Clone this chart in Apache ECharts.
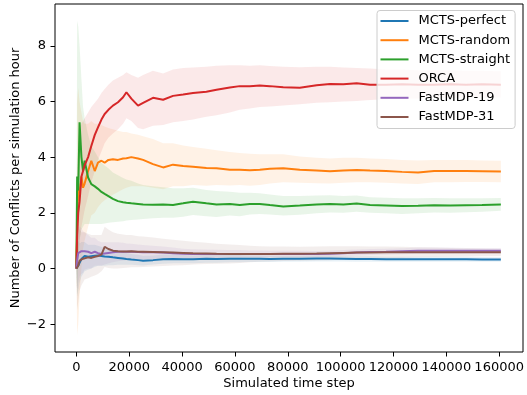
<!DOCTYPE html>
<html>
<head>
<meta charset="utf-8">
</head>
<body style="margin:0">
<div id="container" style="width:527px;height:395px"></div>
<script src="https://cdn.jsdelivr.net/npm/echarts@6/dist/echarts.min.js"></script>
<script>
// simulated time steps (shared by all series)
var steps = [0, 300, 700, 1200, 1900, 2500, 3100, 4400, 5600, 6900,
  8100, 9400, 10600, 12000, 13700, 15600, 17500, 18750, 20600, 23100,
  25000, 28700, 32500, 36200, 40000, 43700, 48700, 52500, 57500, 61200,
  65000, 68700, 72500, 77500, 83700, 90000, 95000, 100000, 105000, 110000,
  116000, 122000, 128000, 134000, 140000, 146000, 152000, 159000];

var xTicks = [0, 20000, 40000, 60000, 80000, 100000, 120000, 140000, 160000];
var yTicks = [-2, 0, 2, 4, 6, 8];

var names = ['MCTS-perfect', 'MCTS-random', 'MCTS-straight', 'ORCA', 'FastMDP-19', 'FastMDP-31'];
var colors = ['#1f77b4', '#ff7f0e', '#2ca02c', '#d62728', '#9467bd', '#8c564b'];

var perfectMean = [0, 0, 0.1, 0.2, 0.34, 0.4, 0.45, 0.42, 0.44, 0.46,
  0.47, 0.45, 0.43, 0.42, 0.4, 0.38, 0.36, 0.34, 0.32, 0.3,
  0.28, 0.3, 0.33, 0.34, 0.33, 0.33, 0.35, 0.34, 0.35, 0.35,
  0.35, 0.35, 0.34, 0.35, 0.35, 0.36, 0.36, 0.35, 0.34, 0.34,
  0.33, 0.33, 0.33, 0.33, 0.33, 0.33, 0.32, 0.32];
var perfectLo = [0, -1.0, -0.8, -0.5, -0.3, -0.2, -0.1, -0.05, 0.0, 0.05,
  0.1, 0.1, 0.1, 0.12, 0.12, 0.13, 0.13, 0.13, 0.13, 0.12,
  0.11, 0.14, 0.17, 0.19, 0.19, 0.19, 0.21, 0.21, 0.22, 0.22,
  0.23, 0.23, 0.23, 0.24, 0.24, 0.25, 0.25, 0.25, 0.24, 0.24,
  0.24, 0.24, 0.24, 0.24, 0.24, 0.24, 0.24, 0.24];
var perfectHi = [0, 1.0, 1.0, 0.9, 0.95, 0.95, 0.95, 0.85, 0.85, 0.85,
  0.82, 0.78, 0.74, 0.72, 0.68, 0.63, 0.6, 0.56, 0.52, 0.49,
  0.46, 0.47, 0.5, 0.5, 0.48, 0.47, 0.49, 0.48, 0.48, 0.48,
  0.47, 0.47, 0.46, 0.46, 0.46, 0.47, 0.47, 0.45, 0.44, 0.44,
  0.42, 0.42, 0.42, 0.42, 0.42, 0.42, 0.41, 0.4];

var randomMean = [0, 1.5, 2.9, 2.7, 3.3, 2.9, 3.05, 3.5, 3.87, 3.5,
  3.8, 3.87, 3.8, 3.9, 3.92, 3.9, 3.95, 3.96, 4.0, 3.95,
  3.9, 3.75, 3.63, 3.73, 3.68, 3.65, 3.61, 3.6, 3.55, 3.55,
  3.53, 3.55, 3.58, 3.6, 3.55, 3.52, 3.49, 3.52, 3.54, 3.52,
  3.5, 3.47, 3.45, 3.5, 3.5, 3.5, 3.49, 3.48];
var randomLo = [0, -2.4, -2.0, -1.0, 0.0, 0.7, 1.0, 1.5, 1.9, 2.0,
  2.2, 2.35, 2.45, 2.55, 2.65, 2.75, 2.85, 2.9, 2.95, 2.95,
  2.95, 2.9, 2.85, 2.95, 2.95, 3.0, 2.97, 3.0, 2.98, 3.0,
  2.97, 3.0, 3.05, 3.1, 3.08, 3.06, 3.05, 3.08, 3.1, 3.1,
  3.08, 3.05, 3.03, 3.1, 3.1, 3.11, 3.11, 3.1];
var randomHi = [0, 6.0, 6.5, 6.0, 5.6, 5.3, 5.2, 5.2, 5.3, 5.2,
  5.2, 5.15, 5.1, 5.05, 5.0, 4.95, 4.9, 4.9, 4.85, 4.8,
  4.75, 4.65, 4.5, 4.5, 4.42, 4.36, 4.3, 4.25, 4.18, 4.15,
  4.12, 4.1, 4.1, 4.1, 4.02, 3.98, 3.95, 3.98, 3.98, 3.95,
  3.93, 3.9, 3.88, 3.9, 3.9, 3.9, 3.88, 3.87];

var straightMean = [0, 3.3, 2.8, 5.25, 4.0, 3.5, 3.87, 3.27, 3.03, 2.95,
  2.86, 2.75, 2.68, 2.6, 2.5, 2.42, 2.38, 2.36, 2.34, 2.32,
  2.3, 2.29, 2.3, 2.28, 2.34, 2.4, 2.34, 2.3, 2.32, 2.28,
  2.32, 2.32, 2.28, 2.23, 2.26, 2.3, 2.32, 2.3, 2.33, 2.28,
  2.26, 2.24, 2.25, 2.27, 2.26, 2.27, 2.28, 2.3];
var straightLo = [0, -1.0, 0.0, 1.0, 1.4, 1.5, 1.6, 1.6, 1.6, 1.6,
  1.6, 1.6, 1.62, 1.64, 1.66, 1.68, 1.7, 1.72, 1.74, 1.76,
  1.78, 1.8, 1.82, 1.82, 1.86, 1.92, 1.88, 1.85, 1.9, 1.88,
  1.94, 1.96, 1.94, 1.9, 1.93, 1.98, 2.01, 2.0, 2.04, 2.0,
  1.98, 1.96, 1.98, 2.01, 2.0, 2.02, 2.04, 2.07];
var straightHi = [0, 8.9, 8.7, 8.0, 6.8, 5.8, 5.4, 4.8, 4.4, 4.2,
  4.0, 3.8, 3.7, 3.6, 3.45, 3.35, 3.25, 3.2, 3.15, 3.05,
  3.0, 2.95, 2.92, 2.88, 2.88, 2.9, 2.82, 2.78, 2.76, 2.72,
  2.72, 2.7, 2.66, 2.6, 2.6, 2.62, 2.63, 2.6, 2.62, 2.56,
  2.54, 2.52, 2.52, 2.53, 2.52, 2.52, 2.52, 2.53];

var orcaMean = [0, 1.2, 2.0, 2.4, 3.3, 3.5, 3.7, 4.0, 4.4, 4.8,
  5.07, 5.35, 5.55, 5.7, 5.85, 5.97, 6.15, 6.33, 6.1, 5.85,
  5.95, 6.13, 6.06, 6.2, 6.25, 6.3, 6.35, 6.42, 6.5, 6.55,
  6.55, 6.57, 6.55, 6.51, 6.49, 6.58, 6.63, 6.62, 6.65, 6.6,
  6.6, 6.62, 6.6, 6.6, 6.62, 6.6, 6.62, 6.6];
var orcaLo = [0, 0, 0.5, 1.0, 1.5, 1.8, 2.1, 2.6, 3.1, 3.5,
  3.9, 4.2, 4.5, 4.7, 4.85, 5.0, 5.2, 5.4, 5.3, 5.05,
  5.0, 5.13, 5.15, 5.25, 5.3, 5.35, 5.45, 5.5, 5.6, 5.7,
  5.75, 5.8, 5.82, 5.85, 5.9, 5.95, 5.97, 6.0, 6.02, 6.05,
  6.08, 6.1, 6.1, 6.12, 6.12, 6.13, 6.14, 6.14];
var orcaHi = [0, 3.0, 4.5, 5.0, 5.2, 5.3, 5.4, 5.6, 5.8, 5.95,
  6.1, 6.3, 6.45, 6.6, 6.75, 6.85, 6.95, 7.05, 6.95, 6.85,
  6.95, 7.1, 7.0, 7.15, 7.2, 7.22, 7.25, 7.28, 7.3, 7.3,
  7.28, 7.3, 7.27, 7.25, 7.23, 7.25, 7.25, 7.22, 7.2, 7.18,
  7.15, 7.15, 7.12, 7.12, 7.12, 7.1, 7.1, 7.08];

var mdp19Mean = [0, 0.3, 0.55, 0.6, 0.62, 0.58, 0.62, 0.6, 0.55, 0.6,
  0.55, 0.52, 0.54, 0.56, 0.58, 0.6, 0.6, 0.6, 0.6, 0.59,
  0.58, 0.58, 0.57, 0.55, 0.53, 0.52, 0.52, 0.52, 0.52, 0.52,
  0.52, 0.52, 0.52, 0.52, 0.52, 0.52, 0.53, 0.55, 0.57, 0.59,
  0.6, 0.62, 0.64, 0.64, 0.64, 0.64, 0.64, 0.64];
var mdp19Lo = [0, -0.8, -0.5, -0.3, -0.2, -0.15, -0.05, 0.0, 0.0, 0.1,
  0.1, 0.1, 0.14, 0.18, 0.22, 0.26, 0.28, 0.3, 0.31, 0.32,
  0.32, 0.34, 0.35, 0.35, 0.35, 0.35, 0.36, 0.37, 0.38, 0.38,
  0.39, 0.39, 0.4, 0.4, 0.4, 0.41, 0.42, 0.44, 0.46, 0.48,
  0.49, 0.51, 0.53, 0.53, 0.53, 0.54, 0.54, 0.54];
var mdp19Hi = [0, 1.6, 1.6, 1.5, 1.45, 1.35, 1.3, 1.2, 1.1, 1.1,
  1.0, 0.94, 0.94, 0.94, 0.94, 0.94, 0.92, 0.9, 0.89, 0.86,
  0.84, 0.82, 0.79, 0.75, 0.71, 0.69, 0.68, 0.67, 0.66, 0.66,
  0.65, 0.65, 0.64, 0.64, 0.64, 0.63, 0.64, 0.66, 0.68, 0.7,
  0.71, 0.73, 0.75, 0.75, 0.75, 0.74, 0.74, 0.74];

var mdp31Mean = [0, 0, 0.1, 0.28, 0.3, 0.35, 0.38, 0.4, 0.38, 0.42,
  0.45, 0.5, 0.78, 0.7, 0.64, 0.62, 0.61, 0.61, 0.62, 0.6,
  0.6, 0.59, 0.58, 0.57, 0.56, 0.55, 0.54, 0.53, 0.52, 0.52,
  0.52, 0.52, 0.52, 0.53, 0.53, 0.54, 0.55, 0.56, 0.57, 0.57,
  0.58, 0.58, 0.58, 0.58, 0.58, 0.58, 0.58, 0.58];
var mdp31Lo = [0, -1.5, -1.2, -0.8, -0.6, -0.5, -0.4, -0.35, -0.3, -0.25,
  -0.2, -0.1, 0.05, 0.02, 0.0, 0.0, 0.02, 0.03, 0.04, 0.04,
  0.05, 0.07, 0.09, 0.11, 0.12, 0.14, 0.16, 0.17, 0.18, 0.2,
  0.22, 0.24, 0.25, 0.27, 0.28, 0.29, 0.3, 0.32, 0.34, 0.35,
  0.37, 0.38, 0.4, 0.41, 0.42, 0.43, 0.44, 0.45];
var mdp31Hi = [0, 1.5, 1.5, 1.4, 1.3, 1.3, 1.3, 1.25, 1.2, 1.2,
  1.2, 1.2, 1.5, 1.4, 1.3, 1.25, 1.22, 1.2, 1.2, 1.16,
  1.15, 1.11, 1.07, 1.03, 1.0, 0.96, 0.92, 0.89, 0.86, 0.84,
  0.82, 0.8, 0.79, 0.79, 0.78, 0.79, 0.8, 0.8, 0.8, 0.79,
  0.79, 0.78, 0.76, 0.75, 0.74, 0.73, 0.72, 0.71];

var means = [perfectMean, randomMean, straightMean, orcaMean, mdp19Mean, mdp31Mean];
var lows = [perfectLo, randomLo, straightLo, orcaLo, mdp19Lo, mdp31Lo];
var highs = [perfectHi, randomHi, straightHi, orcaHi, mdp19Hi, mdp31Hi];

var font = 'DejaVu Sans';

function pairs(arr) {
  return steps.map(function (s, i) { return [s, arr[i]]; });
}

// one polygon per band: upper edge left->right, lower edge right->left
function bandRenderer(lo, hi, color) {
  return function (params, api) {
    if (params.dataIndex !== 0) return null;
    var pts = [];
    for (var i = 0; i < steps.length; i++) pts.push(api.coord([steps[i], hi[i]]));
    for (var i2 = steps.length - 1; i2 >= 0; i2--) pts.push(api.coord([steps[i2], lo[i2]]));
    return {
      type: 'polygon',
      shape: { points: pts },
      style: { fill: color, opacity: 0.1 }
    };
  };
}

var series = [];
for (var k = 0; k < names.length; k++) {
  series.push({
    name: names[k] + ' band', type: 'custom', silent: true,
    xAxisIndex: 0, yAxisIndex: 0,
    renderItem: bandRenderer(lows[k], highs[k], colors[k]),
    data: steps.map(function (s, i) { return [s, lows[k][i], highs[k][i]]; }),
    encode: { x: 0, y: [1, 2] },
    clip: true
  });
}
for (var j = 0; j < names.length; j++) {
  series.push({
    name: names[j], type: 'line', data: pairs(means[j]), symbol: 'none',
    xAxisIndex: 0, yAxisIndex: 0,
    color: colors[j], lineStyle: { width: 2, color: colors[j] }
  });
}

var myChart = echarts.init(document.getElementById('container'));

var option = {
  animation: false,
  textStyle: { fontFamily: font },
  grid: [
    { left: 55, right: 4, top: 4, bottom: 43, show: true, borderColor: '#000', borderWidth: 1 },
    { left: 76.4, right: 23.5, top: 4, bottom: 43 },
    { left: 55, right: 4, top: 45.8, bottom: 70.8 }
  ],
  xAxis: [
    {
      type: 'value', gridIndex: 0, min: -8000, max: 167300,
      axisLine: { show: false }, axisTick: { show: false }, axisLabel: { show: false },
      splitLine: { show: false },
      name: 'Simulated time step', nameLocation: 'middle', nameGap: 25,
      nameTextStyle: { fontFamily: font, fontSize: 13, color: '#000' }
    },
    {
      type: 'value', gridIndex: 1, min: xTicks[0], max: xTicks[xTicks.length - 1], interval: 20000,
      axisLine: { show: false }, splitLine: { show: false },
      axisTick: { show: true, inside: false, length: 4.5, lineStyle: { color: '#000', width: 1 } },
      axisLabel: {
        fontFamily: font, fontSize: 13, color: '#000', margin: 9,
        formatter: function (v) { return String(v); }
      }
    },
    { type: 'value', gridIndex: 2, show: false, min: 0, max: 1 }
  ],
  yAxis: [
    {
      type: 'value', gridIndex: 0, min: -3, max: 9.5,
      axisLine: { show: false }, axisTick: { show: false }, axisLabel: { show: false },
      splitLine: { show: false },
      name: 'Number of Conflicts per simulation hour', nameLocation: 'middle', nameGap: 33,
      nameTextStyle: { fontFamily: font, fontSize: 13, color: '#000' }
    },
    { type: 'value', gridIndex: 1, show: false, min: 0, max: 1 },
    {
      type: 'value', gridIndex: 2, min: yTicks[0], max: yTicks[yTicks.length - 1], interval: 2,
      axisLine: { show: false }, splitLine: { show: false },
      axisTick: { show: true, inside: false, length: 4.5, lineStyle: { color: '#000', width: 1 } },
      axisLabel: {
        fontFamily: font, fontSize: 13, color: '#000', margin: 9,
        formatter: function (v) { return String(v).replace('-', '\u2212'); }
      }
    }
  ],
  legend: {
    data: names, orient: 'vertical', left: 377, top: 10.5,
    icon: 'rect', itemWidth: 28, itemHeight: 2, itemGap: 4.2,
    padding: [3, 5, 4, 3.5],
    backgroundColor: 'rgba(255,255,255,0.8)', borderColor: '#cccccc', borderWidth: 1, borderRadius: 3,
    textStyle: { fontFamily: font, fontSize: 13, color: '#000', lineHeight: 15, padding: [0, 0, 0, 5] }
  },
  series: series
};

myChart.setOption(option);
</script>
</body>
</html>
